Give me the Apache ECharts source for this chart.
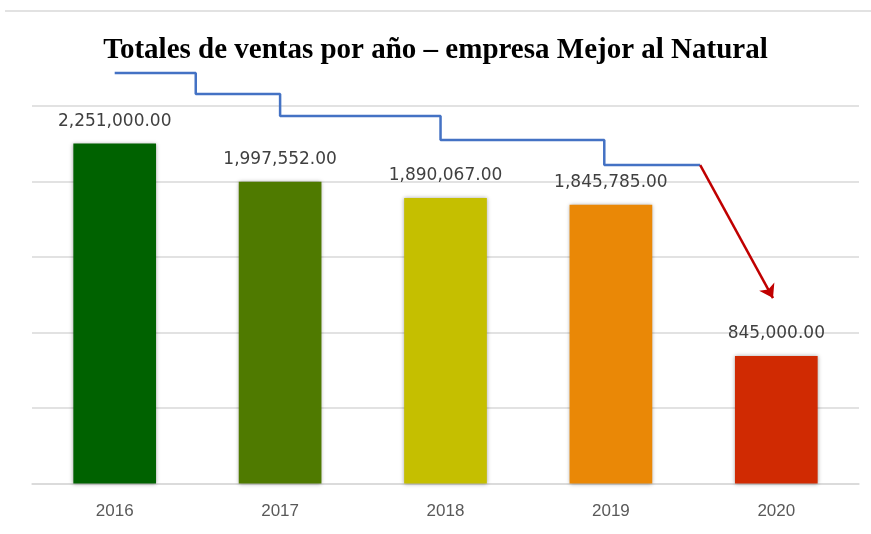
<!DOCTYPE html>
<html>
<head>
<meta charset="utf-8">
<script src="https://cdn.jsdelivr.net/npm/echarts@6/dist/echarts.min.js"></script>
<style>html,body{margin:0;padding:0;background:#fff}#c{width:871px;height:534px}</style>
</head>
<body>
<div id="c"></div>
<script>
const titleText = 'Totales de ventas por año – empresa Mejor al Natural';
const categories = ['2016', '2017', '2018', '2019', '2020'];
const sales = [2251000, 1997552, 1890067, 1845785, 845000];
const barColors = ['#006200', '#4f7a00', '#c5bf00', '#ea8806', '#d02a02'];
const yTicks = { min: 0, max: 2500000, interval: 500000 };
// decorative trend annotation, in category-index / sales units
const stepX = [0, 0.49, 0.49, 1.0, 1.0, 1.97, 1.97, 2.96, 2.96, 3.54];
const stepY = [2718000, 2718000, 2579000, 2579000, 2434000, 2434000, 2275000, 2275000, 2109000, 2109000];
const arrowFrom = [3.54, 2109000];
const arrowTo = [3.98, 1228000];

const fmt = v => v.toLocaleString('en-US', { minimumFractionDigits: 2, maximumFractionDigits: 2 });

const chart = echarts.init(document.getElementById('c'));
chart.setOption({
  animation: false,
  title: {
    text: titleText, left: 'center', top: 31,
    textStyle: { fontFamily: 'Liberation Serif', fontWeight: 'bold', fontSize: 29, color: '#000' }
  },
  graphic: [{
    type: 'line', shape: { x1: 5, y1: 11, x2: 871, y2: 11 },
    style: { stroke: '#d9d9d9', lineWidth: 1.5 }
  }],
  grid: [
    { left: 32, right: 12, top: 106, bottom: 50.5 },
    { left: 32, right: 12, top: 106, bottom: 50.5 }
  ],
  xAxis: [{
    type: 'category', data: categories, gridIndex: 0,
    axisLine: { lineStyle: { color: '#d9d9d9', width: 1.5 } },
    axisTick: { show: false },
    axisLabel: { color: '#595959', fontSize: 17, fontFamily: 'Liberation Sans', margin: 19 }
  }, {
    type: 'value', gridIndex: 1, min: -0.5, max: 4.5, show: false
  }],
  yAxis: [{
    type: 'value', gridIndex: 0, min: yTicks.min, max: yTicks.max, interval: yTicks.interval,
    axisLabel: { show: false }, axisLine: { show: false }, axisTick: { show: false },
    splitLine: { lineStyle: { color: '#d9d9d9', width: 1.5 } }
  }, {
    type: 'value', gridIndex: 1, min: yTicks.min, max: yTicks.max, show: false
  }],
  series: [{
    type: 'bar', xAxisIndex: 0, yAxisIndex: 0,
    barWidth: '50%',
    data: sales.map((v, i) => ({ value: v, itemStyle: { color: barColors[i] } })),
    itemStyle: { shadowBlur: 4, shadowColor: 'rgba(0,0,0,0.35)' },
    label: {
      show: true, position: 'top', distance: 14,
      formatter: p => fmt(p.value),
      color: '#404040', fontSize: 17, fontFamily: 'DejaVu Sans'
    }
  }, {
    type: 'line', xAxisIndex: 1, yAxisIndex: 1, clip: false,
    data: stepX.map((x, i) => [x, stepY[i]]),
    symbol: 'none',
    lineStyle: { color: '#4472c4', width: 2.5 },
    markLine: {
      silent: true, symbol: ['none', 'arrow'], symbolSize: 13,
      label: { show: false },
      lineStyle: { color: '#c00000', width: 2.5, type: 'solid' },
      data: [[{ coord: arrowFrom }, { coord: arrowTo }]]
    }
  }]
});
</script>
</body>
</html>
